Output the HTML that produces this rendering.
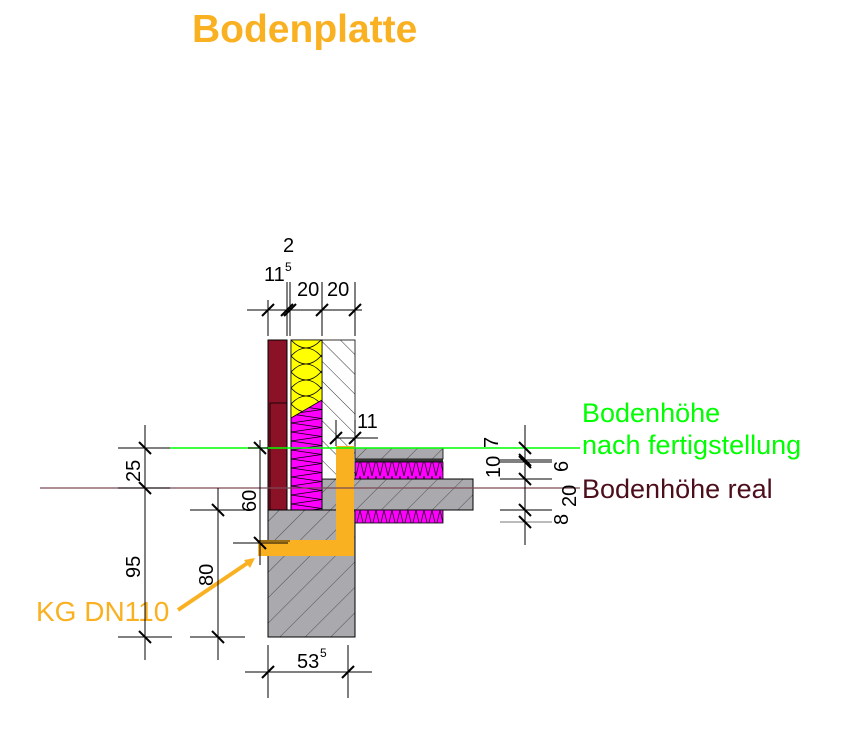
<!DOCTYPE html>
<html><head><meta charset="utf-8"><style>body{margin:0;background:#fff}svg{display:block}text{font-family:"Liberation Sans",sans-serif}</style></head><body>
<svg width="845" height="745" viewBox="0 0 845 745" xmlns="http://www.w3.org/2000/svg">
<defs>
<pattern id="h1" width="14" height="14" patternUnits="userSpaceOnUse" patternTransform="rotate(-45)"><rect width="14" height="14" fill="#fff"/><line x1="0" y1="0" x2="0" y2="14" stroke="#000" stroke-width="0.8"/></pattern>
<pattern id="hg" width="18" height="18" patternUnits="userSpaceOnUse" patternTransform="rotate(45)"><rect width="18" height="18" fill="#aaa9ad"/><line x1="0" y1="0" x2="0" y2="18" stroke="#222" stroke-width="0.7"/></pattern>
<pattern id="zz" width="8" height="17" patternUnits="userSpaceOnUse"><rect width="8" height="17" fill="#f0f"/><path d="M0 0 L4 17 L8 0" fill="none" stroke="#000" stroke-width="0.7"/></pattern>
<pattern id="zzh" width="31" height="9" patternUnits="userSpaceOnUse" x="291"><rect width="31" height="9" fill="#f0f"/><path d="M0 0 L31 4.5 L0 9" fill="none" stroke="#000" stroke-width="0.7"/></pattern>
<pattern id="yel" width="30" height="16" patternUnits="userSpaceOnUse" x="291" y="340"><rect width="30" height="16" fill="#ff0"/><path d="M0 0 Q15 16 30 0 M0 16 Q15 0 30 16" fill="none" stroke="#000" stroke-width="0.8"/></pattern>
</defs>
<text x="192" y="42" font-size="39" font-weight="bold" fill="#f9b122">Bodenplatte</text>
<rect x="268" y="510" width="87" height="127" fill="url(#hg)" stroke="#000"/>
<rect x="322" y="479" width="151" height="31" fill="url(#hg)" stroke="#000"/>
<rect x="322" y="340" width="33" height="139" fill="url(#h1)" stroke="#000" stroke-width="0.8"/>
<rect x="355" y="448" width="88" height="11" fill="url(#hg)" stroke="#000" stroke-width="0.8"/>
<rect x="355" y="459" width="88" height="3" fill="#333"/>
<rect x="355" y="462" width="88" height="17" fill="url(#zz)" stroke="#000" stroke-width="0.8"/>
<rect x="355" y="510" width="88" height="13" fill="url(#zz)" stroke="#000" stroke-width="0.8"/>
<rect x="268" y="340" width="19" height="170" fill="#8b1127" stroke="#000"/>
<rect x="270" y="403" width="17" height="107" fill="none" stroke="#000" stroke-width="0.8"/>
<rect x="291" y="340" width="31" height="170" fill="url(#zzh)" stroke="#000"/>
<path d="M291 340 H322 V400 L291 418 Z" fill="url(#yel)" stroke="#000" stroke-width="0.8"/>
<path d="M336 446 H354 V556 H258 V540 H336 Z" fill="#f9b122"/>
<line x1="258" y1="541" x2="290" y2="541" stroke="#000" stroke-width="0.8"/>
<line x1="170" y1="448" x2="580" y2="448" stroke="#00ff00" stroke-width="1.5"/>
<line x1="40" y1="488" x2="580" y2="488" stroke="#7a4a55" stroke-width="1.2"/>
<text x="582" y="422" font-size="27" fill="#00ff00">Bodenhöhe</text>
<text x="582" y="454" font-size="27" fill="#00ff00">nach fertigstellung</text>
<text x="582" y="498" font-size="27" fill="#4d0e1c">Bodenhöhe real</text>
<text x="36" y="621" font-size="28" fill="#f9b122">KG DN110</text>
<line x1="178" y1="610" x2="252" y2="560" stroke="#f9b122" stroke-width="4"/>
<path d="M255 558 L244 560 L250 568 Z" fill="#f9b122"/>
<g stroke="#000" stroke-width="1" fill="none">
<line x1="247" y1="310" x2="362" y2="310"/>
<line x1="268" y1="300" x2="268" y2="336"/><line x1="287" y1="282" x2="287" y2="336"/><line x1="290" y1="282" x2="290" y2="336"/><line x1="322" y1="282" x2="322" y2="336"/><line x1="355" y1="282" x2="355" y2="336"/>
<g stroke-width="2"><line x1="262" y1="316" x2="274" y2="304"/><line x1="281" y1="316" x2="293" y2="304"/><line x1="284" y1="316" x2="296" y2="304"/><line x1="316" y1="316" x2="328" y2="304"/><line x1="349" y1="316" x2="361" y2="304"/>
<line x1="330" y1="444" x2="342" y2="432"/><line x1="349" y1="444" x2="361" y2="432"/></g>
<line x1="336" y1="438" x2="378" y2="438"/><line x1="336" y1="420" x2="336" y2="446"/><line x1="355" y1="420" x2="355" y2="446"/>
<line x1="145" y1="425" x2="145" y2="660"/>
<line x1="118" y1="448" x2="170" y2="448"/><line x1="118" y1="488" x2="170" y2="488"/><line x1="118" y1="637" x2="172" y2="637"/>
<line x1="218" y1="488" x2="218" y2="660"/>
<line x1="190" y1="510" x2="245" y2="510"/><line x1="190" y1="637" x2="245" y2="637"/>
<line x1="260" y1="440" x2="260" y2="565"/><line x1="233" y1="543" x2="288" y2="543"/><line x1="248" y1="448" x2="268" y2="448"/>
<g stroke-width="2"><line x1="139" y1="442" x2="151" y2="454"/><line x1="139" y1="482" x2="151" y2="494"/><line x1="139" y1="631" x2="151" y2="643"/>
<line x1="212" y1="504" x2="224" y2="516"/><line x1="212" y1="631" x2="224" y2="643"/>
<line x1="254" y1="442" x2="266" y2="454"/><line x1="254" y1="537" x2="266" y2="549"/></g>
<line x1="245" y1="672" x2="372" y2="672"/><line x1="268" y1="645" x2="268" y2="698"/><line x1="348" y1="645" x2="348" y2="698"/>
<g stroke-width="2"><line x1="262" y1="678" x2="274" y2="666"/><line x1="342" y1="678" x2="354" y2="666"/></g>
<line x1="525" y1="425" x2="525" y2="545"/>
<line x1="500" y1="460" x2="552" y2="460"/><line x1="500" y1="462" x2="552" y2="462"/><line x1="500" y1="479" x2="552" y2="479"/><line x1="500" y1="510" x2="552" y2="510"/><line x1="500" y1="522" x2="552" y2="522" stroke="#777"/>
<g stroke-width="2"><line x1="519" y1="442" x2="531" y2="454"/><line x1="519" y1="454" x2="531" y2="466"/><line x1="519" y1="456" x2="531" y2="468"/><line x1="519" y1="473" x2="531" y2="485"/><line x1="519" y1="504" x2="531" y2="516"/><line x1="519" y1="516" x2="531" y2="528"/></g>
</g>
<g font-size="20" fill="#000">
<text x="283" y="252">2</text>
<text x="264" y="281">11</text><text x="285" y="271" font-size="12">5</text>
<text x="297" y="296">20</text><text x="327" y="296">20</text>
<text x="357" y="428">11</text>
<text x="297" y="668">53</text><text x="320" y="657" font-size="12">5</text>
<text transform="translate(140,482) rotate(-90)">25</text>
<text transform="translate(140,578) rotate(-90)">95</text>
<text transform="translate(213,586) rotate(-90)">80</text>
<text transform="translate(256,512) rotate(-90)">60</text>
<text transform="translate(500,478) rotate(-90)">10</text>
<text transform="translate(498,448) rotate(-90)">7</text>
<text transform="translate(568,472) rotate(-90)">6</text>
<text transform="translate(576,507) rotate(-90)">20</text>
<text transform="translate(568,525) rotate(-90)">8</text>
</g>
</svg>
</body></html>
